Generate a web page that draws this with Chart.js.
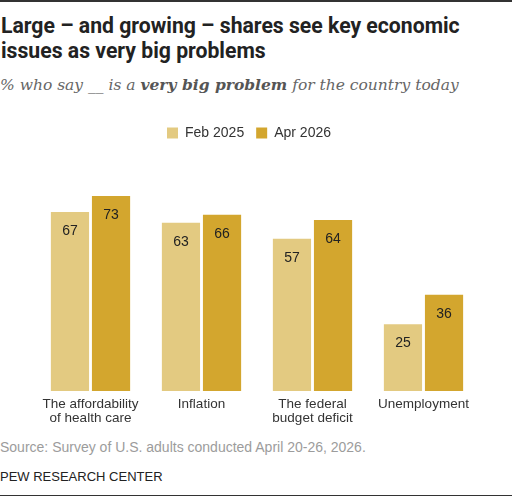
<!DOCTYPE html>
<html>
<head>
<meta charset="utf-8">
<script src="https://cdn.jsdelivr.net/npm/chart.js@4"></script>
<style>
  body { margin: 0; background: #fff; }
  #wrap { position: relative; width: 512px; height: 496px; overflow: hidden; border-top: 2px solid #333; box-sizing: border-box; }
  #bottomline { position: absolute; left: 0; top: 493px; width: 512px; height: 2px; background: #333; }
  .title { position: absolute; left: 1px; top: 12px; font-family: "Roboto", sans-serif; font-weight: 700; font-size: 21.2px; line-height: 24.5px; color: #222; white-space: nowrap; }
  .sub { position: absolute; left: 0; top: 73px; font-family: "DejaVu Serif", serif; font-style: italic; font-size: 15.5px; line-height: 20px; color: #666; white-space: nowrap; }
  .sub b { font-weight: 700; color: #555; }
  .src { position: absolute; left: 0; top: 437px; font-family: "Liberation Sans", sans-serif; font-size: 14px; color: #9c9c9c; }
  .pew { position: absolute; left: 0; top: 467px; font-family: "Liberation Sans", sans-serif; font-size: 13px; color: #222; }
  #chartbox { position: absolute; left: 0; top: 112px; width: 512px; height: 318px; }
</style>
</head>
<body>
<div id="wrap">
  <div class="title">Large – and growing – shares see key economic<br>issues as very big problems</div>
  <div class="sub">% who say __ is a <b>very big problem</b> for the country today</div>
  <div id="chartbox"><canvas id="c"></canvas></div>
  <div class="src">Source: Survey of U.S. adults conducted April 20-26, 2026.</div>
  <div class="pew">PEW RESEARCH CENTER</div>
  <div id="bottomline"></div>
</div>
<script>
const categories = [
  ['The affordability', 'of health care'],
  'Inflation',
  ['The federal', 'budget deficit'],
  'Unemployment'
];
const feb2025 = [67, 63, 57, 25];
const apr2026 = [73, 66, 64, 36];
const seriesNames = ['Feb 2025', 'Apr 2026'];
const seriesColors = ['#E3CA81', '#D3A62E'];

const valueLabels = {
  id: 'valueLabels',
  afterLayout(chart) {
    // nudge legend a little left, like the original
    chart.legend.left -= 8;
    chart.legend.right -= 8;
  },
  afterDatasetsDraw(chart) {
    const ctx = chart.ctx;
    ctx.save();
    ctx.font = '14px "Liberation Sans", sans-serif';
    ctx.fillStyle = '#222';
    ctx.textAlign = 'center';
    ctx.textBaseline = 'middle';
    chart.data.datasets.forEach((ds, i) => {
      chart.getDatasetMeta(i).data.forEach((bar, j) => {
        ctx.fillText(ds.data[j], bar.x, bar.y + 19);
      });
    });
    ctx.restore();
  }
};

new Chart(document.getElementById('c'), {
  type: 'bar',
  data: {
    labels: categories,
    datasets: [
      { label: seriesNames[0], data: feb2025, backgroundColor: seriesColors[0] },
      { label: seriesNames[1], data: apr2026, backgroundColor: seriesColors[1] }
    ]
  },
  options: {
    responsive: true,
    maintainAspectRatio: false,
    animation: false,
    categoryPercentage: 0.74,
    barPercentage: 0.93,
    layout: { padding: { left: 35, right: 33, top: 0, bottom: 0 } },
    plugins: {
      legend: {
        position: 'top',
        labels: {
          boxWidth: 11, boxHeight: 11, padding: 12,
          color: '#333',
          font: { family: '"Liberation Sans", sans-serif', size: 14 }
        }
      },
      tooltip: { enabled: false }
    },
    scales: {
      x: {
        grid: { display: false, drawTicks: false },
        border: { display: false },
        ticks: {
          color: '#333',
          maxRotation: 0,
          padding: 7,
          font: { family: '"Liberation Sans", sans-serif', size: 13.5, lineHeight: 1.0 }
        }
      },
      y: {
        display: false,
        min: 0,
        max: 90.2
      }
    }
  },
  plugins: [valueLabels]
});
</script>
</body>
</html>
